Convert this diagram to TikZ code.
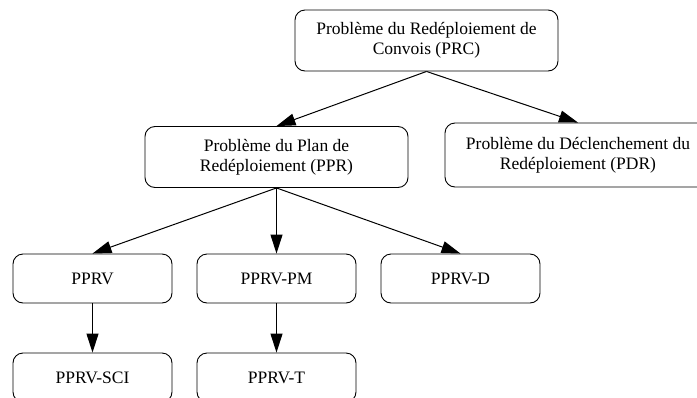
\documentclass[tikz,border=0pt]{standalone}
\usepackage{fontspec}
\setmainfont{Liberation Serif}
\usetikzlibrary{arrows.meta}
\tikzset{
	boite/.style={draw, rounded corners=10pt, line width=0.9pt, align=center,
		inner sep=0pt, font=\fontsize{17.5}{20}\selectfont},
	grande/.style={boite, minimum width=263pt, minimum height=61pt},
	petite/.style={boite, minimum width=159pt, minimum height=49pt},
	fleche/.style={line width=1pt, -{Triangle[length=19pt,width=12pt]}}
}
\begin{document}
\begin{tikzpicture}[x=1pt,y=1pt]
		\clip (0,0) rectangle (697,-397);
		\fill[white] (0,0) rectangle (697,-397);
		
		\node[grande] (prc) at (426.5,-40.5) {Problème du Redéploiement de\\Convois (PRC)};
		\node[grande] (ppr) at (276.5,-157) {Problème du Plan de\\Redéploiement (PPR)};
		\node[grande, minimum width=266pt, minimum height=64pt] (pdr) at (578,-155) {Problème du Déclenchement du\\Redéploiement (PDR)};
		
		% sous-problemes du PPR
		\node[petite] (pprv) at (92.5,-278.5) {PPRV};
		\node[petite] (pprvpm) at (276.5,-278.5) {PPRV-PM};
		\node[petite] (pprvd) at (460.5,-278.5) {PPRV-D};
		
		\node[petite] (pprvsci) at (92.5,-377.5) {PPRV-SCI};
		\node[petite] (pprvt) at (276.5,-377.5) {PPRV-T};
		
		\draw[fleche] (prc.south) -- (ppr.north);
		\draw[fleche] (prc.south) -- (pdr.north);
		\draw[fleche] (ppr.south) -- (pprv.north);
		\draw[fleche] (ppr.south) -- (pprvpm.north);
		\draw[fleche] (ppr.south) -- (pprvd.north);
		\draw[fleche] (pprv.south) -- (pprvsci.north);
		\draw[fleche] (pprvpm.south) -- (pprvt.north);
	\end{tikzpicture}
\end{document}
